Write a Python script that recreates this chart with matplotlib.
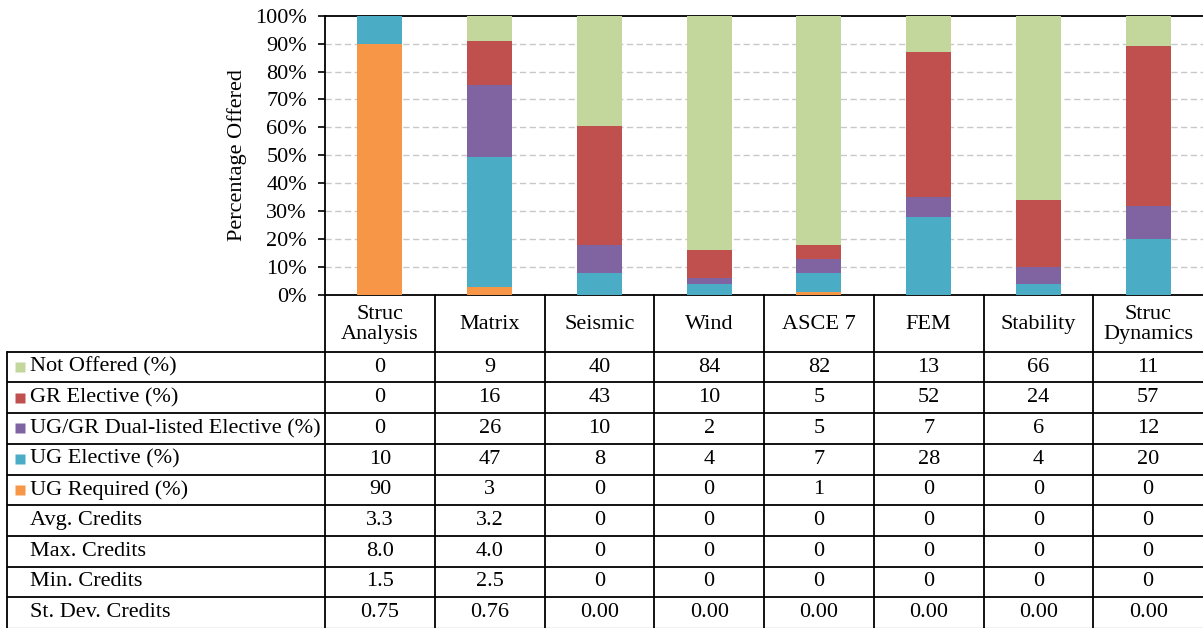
import matplotlib
matplotlib.use("Agg")
import matplotlib.pyplot as plt
import numpy as np

plt.rcParams["font.family"] = ["Liberation Serif", "DejaVu Serif"]

# ---- data ----
categories = ["Struc\nAnalysis", "Matrix", "Seismic", "Wind", "ASCE 7",
              "FEM", "Stability", "Struc\nDynamics"]
not_offered = [0, 9, 40, 84, 82, 13, 66, 11]
gr_elective = [0, 16, 43, 10, 5, 52, 24, 57]
dual_listed = [0, 26, 10, 2, 5, 7, 6, 12]
ug_elective = [10, 47, 8, 4, 7, 28, 4, 20]
ug_required = [90, 3, 0, 0, 1, 0, 0, 0]
avg_credits = [3.3, 3.2, 0, 0, 0, 0, 0, 0]
max_credits = [8.0, 4.0, 0, 0, 0, 0, 0, 0]
min_credits = [1.5, 2.5, 0, 0, 0, 0, 0, 0]
sd_credits = [0.75, 0.76, 0.00, 0.00, 0.00, 0.00, 0.00, 0.00]

series_names = ["Not Offered (%)", "GR Elective (%)", "UG/GR Dual-listed Elective (%)",
                "UG Elective (%)", "UG Required (%)"]
series_vals = [not_offered, gr_elective, dual_listed, ug_elective, ug_required]
series_colors = ["#C3D69B", "#C0504D", "#8064A2", "#4BACC6", "#F79646"]
credit_names = ["Avg. Credits", "Max. Credits", "Min. Credits", "St. Dev. Credits"]

W, H = 1203, 628
fig = plt.figure(figsize=(W / 100, H / 100), dpi=100)

# ---- stacked 100% bar chart ----
ax_left, ax_right, ax_top, ax_bot = 325, 1203, 15.7, 295
ax = fig.add_axes([ax_left / W, 1 - ax_bot / H, (ax_right - ax_left) / W, (ax_bot - ax_top) / H])
n = len(categories)
x = np.arange(n)
vals = np.array(series_vals, dtype=float)
totals = vals.sum(axis=0)
shares = vals / totals * 100
bottom = np.zeros(n)
# stack from the bottom: UG Required first, Not Offered on top
for k in range(len(series_vals) - 1, -1, -1):
    ax.bar(x, shares[k], width=0.41, bottom=bottom, color=series_colors[k],
           edgecolor="none", zorder=3)
    bottom += shares[k]

ax.set_xlim(-0.5, n - 0.5)
ax.set_ylim(0, 100)
ax.set_yticks(np.arange(0, 101, 10))
ax.set_yticklabels([f"{v}%" for v in range(0, 101, 10)], fontsize=16)
ax.tick_params(axis="y", direction="out", length=5, width=1.2, pad=8)
ax.set_xticks([])
for yv in range(10, 100, 10):
    ax.axhline(yv, color="#C8C8C8", lw=1.0, ls=(0, (4.5, 2.5)), zorder=1)
for s in ["left", "top", "bottom"]:
    ax.spines[s].set_linewidth(1.3)
    ax.spines[s].set_color("black")
ax.spines["right"].set_visible(False)
ax.set_ylabel("Percentage Offered", fontsize=16, labelpad=6)

# ---- data table ----
col_w = (ax_right - ax_left) / n
tab_left = 7
lab_w = (ax_left - tab_left) / col_w
row_h = 30.7
header_h = (351.7 - ax_bot) / row_h
n_rows = len(series_names) + len(credit_names)

tax = fig.add_axes([tab_left / W, 0, (W - tab_left) / W, 1 - ax_bot / H])
x0 = -0.5 - lab_w
tax.set_xlim(x0, n - 0.5)
tax.set_ylim(header_h + n_rows, 0)
tax.axis("off")

lw = 1.3
for r in range(n_rows):
    y = header_h + r
    tax.plot([x0, n - 0.5], [y, y], color="black", lw=lw, clip_on=False, solid_capstyle="butt")
tax.plot([x0, n - 0.5], [header_h + n_rows] * 2, color="#BBBBBB", lw=1.0, clip_on=False)
for j in range(n):
    xv = -0.5 + j
    tax.plot([xv, xv], [0, header_h + n_rows], color="black", lw=lw, clip_on=False)
tax.plot([x0, x0], [header_h, header_h + n_rows], color="black", lw=lw, clip_on=False)

for i, name in enumerate(categories):
    tax.text(i, header_h / 2 + 0.03, name, ha="center", va="center", fontsize=16,
             linespacing=1.05)

label_x = x0 + (30 - tab_left) / col_w
key_x = x0 + (20 - tab_left) / col_w
for r, (name, vs, c) in enumerate(zip(series_names, series_vals, series_colors)):
    yc = header_h + r + 0.5
    tax.plot(key_x, yc, marker="s", ms=7.5, color=c, mec="none", clip_on=False)
    tax.text(label_x, yc, name, ha="left", va="center", fontsize=16)
    for i, v in enumerate(vs):
        tax.text(i, yc, f"{v}", ha="center", va="center", fontsize=16)

credit_rows = [avg_credits, max_credits, min_credits]
for r, (name, vs) in enumerate(zip(credit_names[:3], credit_rows)):
    yc = header_h + len(series_names) + r + 0.5
    tax.text(label_x, yc, name, ha="left", va="center", fontsize=16)
    for i, v in enumerate(vs):
        tax.text(i, yc, f"{v:.1f}" if v else "0", ha="center", va="center", fontsize=16)

yc = header_h + len(series_names) + 3 + 0.5
tax.text(label_x, yc, credit_names[3], ha="left", va="center", fontsize=16)
for i, v in enumerate(sd_credits):
    tax.text(i, yc, f"{v:.2f}", ha="center", va="center", fontsize=16)

fig.savefig("out.png", dpi=100)
